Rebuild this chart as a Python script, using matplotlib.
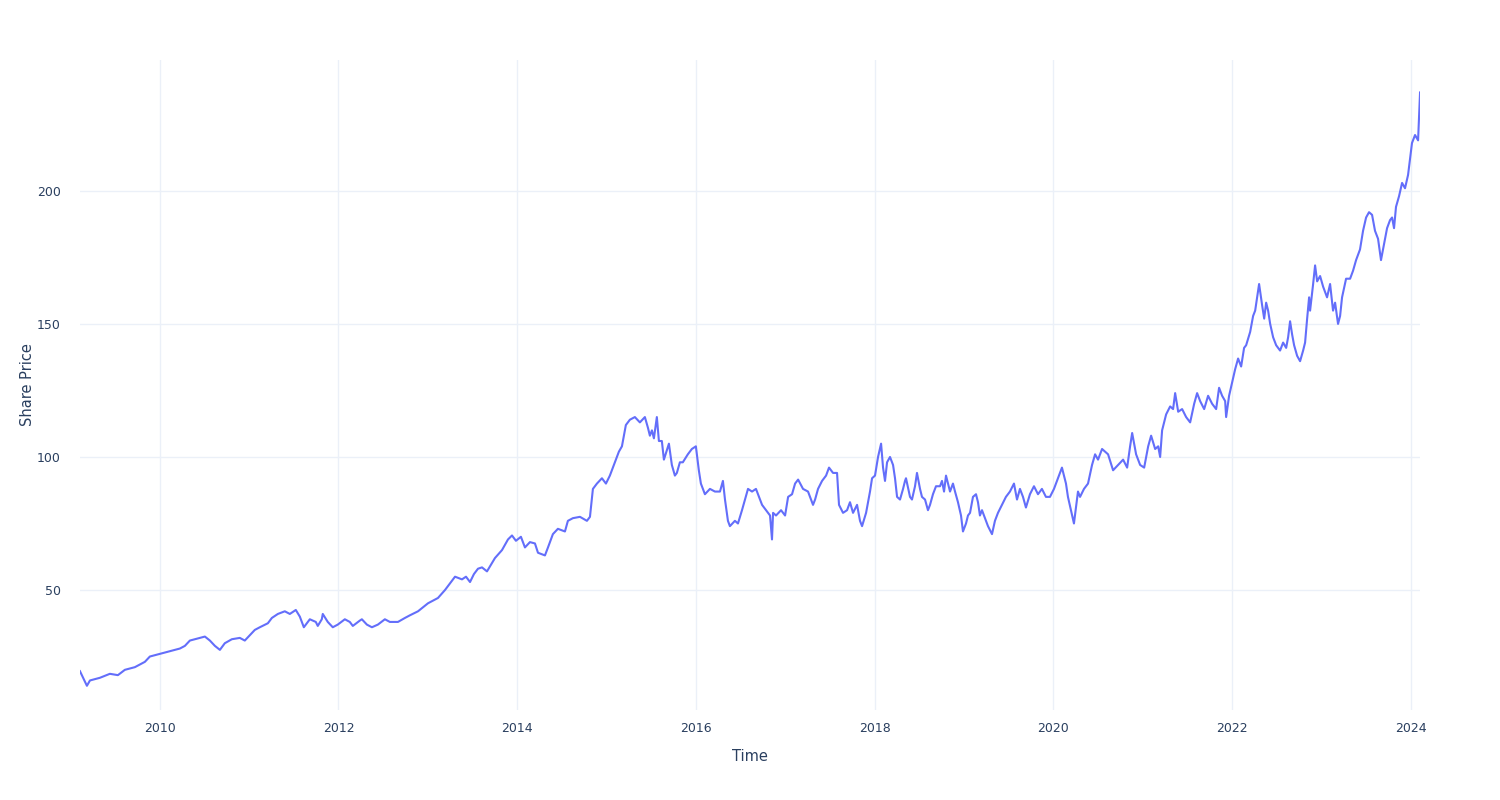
import numpy as np
import pandas as pd
import matplotlib
matplotlib.use('Agg')
import matplotlib.pyplot as plt
import matplotlib.dates as mdates

# time as decimal years
years = [
    2009.105, 2009.183, 2009.217, 2009.328, 2009.440, 2009.530, 2009.608, 2009.720, 2009.776, 2009.832,
    2009.888, 2010.000, 2010.112, 2010.224, 2010.280, 2010.336, 2010.448, 2010.504, 2010.560, 2010.616,
    2010.672, 2010.727, 2010.806, 2010.895, 2010.951, 2011.007, 2011.063, 2011.119, 2011.209, 2011.254,
    2011.321, 2011.399, 2011.455, 2011.522, 2011.567, 2011.612, 2011.679, 2011.746, 2011.768, 2011.813,
    2011.824, 2011.880, 2011.936, 2011.992, 2012.071, 2012.126, 2012.160, 2012.238, 2012.261, 2012.317,
    2012.373, 2012.440, 2012.518, 2012.574, 2012.664, 2012.742, 2012.798, 2012.888, 2012.999, 2013.111,
    2013.190, 2013.302, 2013.380, 2013.425, 2013.470, 2013.514, 2013.559, 2013.604, 2013.660, 2013.749,
    2013.828, 2013.895, 2013.940, 2013.984, 2014.040, 2014.085, 2014.141, 2014.197, 2014.231, 2014.309,
    2014.343, 2014.398, 2014.454, 2014.533, 2014.566, 2014.622, 2014.701, 2014.779, 2014.813, 2014.846,
    2014.891, 2014.947, 2014.992, 2015.036, 2015.092, 2015.137, 2015.171, 2015.215, 2015.260, 2015.316,
    2015.372, 2015.428, 2015.462, 2015.484, 2015.507, 2015.529, 2015.562, 2015.585, 2015.618, 2015.641,
    2015.697, 2015.730, 2015.764, 2015.786, 2015.820, 2015.853, 2015.909, 2015.954, 2015.999, 2016.032,
    2016.055, 2016.100, 2016.156, 2016.212, 2016.268, 2016.301, 2016.324, 2016.357, 2016.379, 2016.435,
    2016.469, 2016.514, 2016.547, 2016.581, 2016.626, 2016.670, 2016.704, 2016.738, 2016.782, 2016.827,
    2016.849, 2016.861, 2016.894, 2016.950, 2016.995, 2017.029, 2017.073, 2017.107, 2017.141, 2017.196,
    2017.252, 2017.308, 2017.331, 2017.364, 2017.409, 2017.454, 2017.487, 2017.532, 2017.577, 2017.599,
    2017.644, 2017.689, 2017.722, 2017.756, 2017.801, 2017.834, 2017.857, 2017.902, 2017.924, 2017.946,
    2017.969, 2018.002, 2018.036, 2018.070, 2018.092, 2018.114, 2018.137, 2018.170, 2018.204, 2018.226,
    2018.249, 2018.282, 2018.316, 2018.338, 2018.349, 2018.394, 2018.416, 2018.450, 2018.472, 2018.506,
    2018.528, 2018.562, 2018.595, 2018.618, 2018.651, 2018.685, 2018.730, 2018.752, 2018.775, 2018.797,
    2018.842, 2018.875, 2018.898, 2018.931, 2018.965, 2018.987, 2019.021, 2019.043, 2019.066, 2019.099,
    2019.133, 2019.155, 2019.177, 2019.200, 2019.233, 2019.267, 2019.312, 2019.345, 2019.379, 2019.424,
    2019.468, 2019.513, 2019.558, 2019.592, 2019.625, 2019.659, 2019.692, 2019.737, 2019.782, 2019.827,
    2019.871, 2019.916, 2019.961, 2020.006, 2020.050, 2020.095, 2020.140, 2020.162, 2020.229, 2020.274,
    2020.297, 2020.341, 2020.386, 2020.431, 2020.465, 2020.498, 2020.543, 2020.610, 2020.666, 2020.722,
    2020.778, 2020.823, 2020.856, 2020.879, 2020.923, 2020.968, 2021.013, 2021.058, 2021.091, 2021.136,
    2021.170, 2021.192, 2021.214, 2021.259, 2021.304, 2021.337, 2021.360, 2021.394, 2021.438, 2021.483,
    2021.528, 2021.573, 2021.606, 2021.640, 2021.685, 2021.729, 2021.774, 2021.819, 2021.852, 2021.886,
    2021.920, 2021.931, 2021.964, 2021.998, 2022.032, 2022.065, 2022.099, 2022.132, 2022.155, 2022.200,
    2022.233, 2022.256, 2022.278, 2022.300, 2022.334, 2022.357, 2022.379, 2022.401, 2022.424, 2022.457,
    2022.491, 2022.535, 2022.569, 2022.603, 2022.625, 2022.647, 2022.670, 2022.692, 2022.726, 2022.759,
    2022.793, 2022.815, 2022.838, 2022.860, 2022.871, 2022.905, 2022.927, 2022.950, 2022.983, 2023.017,
    2023.061, 2023.095, 2023.128, 2023.151, 2023.184, 2023.207, 2023.229, 2023.274, 2023.319, 2023.352,
    2023.386, 2023.430, 2023.464, 2023.498, 2023.531, 2023.565, 2023.598, 2023.632, 2023.665, 2023.699,
    2023.733, 2023.766, 2023.789, 2023.811, 2023.833, 2023.867, 2023.901, 2023.934, 2023.968, 2023.990,
    2024.012, 2024.046, 2024.080, 2024.102,
]

price = [
    19.5, 14, 16, 17, 18.5, 18, 20, 21, 22, 23,
    25, 26, 27, 28, 29, 31, 32, 32.5, 31, 29,
    27.5, 30, 31.5, 32, 31, 33, 35, 36, 37.5, 39.5,
    41, 42, 41, 42.5, 40, 36, 39, 38, 36.5, 39,
    41, 38, 36, 37, 39, 38, 36.5, 38.5, 39, 37,
    36, 37, 39, 38, 38, 39.5, 40.5, 42, 45, 47,
    50, 55, 54, 55, 53, 56, 58, 58.5, 57, 62,
    65, 69, 70.5, 68.5, 70, 66, 68, 67.5, 64, 63,
    66, 71, 73, 72, 76, 77, 77.5, 76, 77.5, 88,
    90, 92, 90, 93, 98, 102, 104, 112, 114, 115,
    113, 115, 111, 108, 110, 107, 115, 106, 106, 99,
    105, 97, 93, 94, 98, 98, 101, 103, 104, 95,
    90, 86, 88, 87, 87, 91, 84, 76, 74, 76,
    75, 80, 84, 88, 87, 88, 85, 82, 80, 78,
    69, 79, 78, 80, 78, 85, 86, 90, 91.5, 88,
    87, 82, 84, 88, 91, 93, 96, 94, 94, 82,
    79, 80, 83, 79, 82, 76, 74, 79, 83, 87,
    92, 93, 100, 105, 96, 91, 98, 100, 97, 92,
    85, 84, 88, 91, 92, 85, 84, 89, 94, 88,
    85, 84, 80, 82, 86, 89, 89, 91, 87, 93,
    87, 90, 87, 83, 78, 72, 75, 78, 79, 85,
    86, 83, 78, 80, 77, 74, 71, 76, 79, 82,
    85, 87, 90, 84, 88, 85, 81, 86, 89, 86,
    88, 85, 85, 88, 92, 96, 90, 85, 75, 87,
    85, 88, 90, 97, 101, 99, 103, 101, 95, 97,
    99, 96, 104, 109, 101, 97, 96, 104, 108, 103,
    104, 100, 110, 116, 119, 118, 124, 117, 118, 115,
    113, 120, 124, 121, 118, 123, 120, 118, 126, 123,
    121, 115, 123, 128, 133, 137, 134, 141, 142, 147,
    153, 155, 160, 165, 157, 152, 158, 155, 150, 145,
    142, 140, 143, 141, 145, 151, 146, 142, 138, 136,
    140, 143, 152, 160, 155, 165, 172, 166, 168, 164,
    160, 165, 155, 158, 150, 153, 160, 167, 167, 170,
    174, 178, 185, 190, 192, 191, 185, 182, 174, 180,
    186, 189, 190, 186, 194, 198, 203, 201, 206, 212,
    218, 221, 219, 237,
]


def to_date(y):
    yr = int(y)
    start = pd.Timestamp(yr, 1, 1)
    end = pd.Timestamp(yr + 1, 1, 1)
    return start + (end - start) * (y - yr)


dates = [to_date(y) for y in years]

txt = '#2a3f5f'
grid = '#ebf0f8'

fig = plt.figure(figsize=(15, 8), dpi=100)
ax = fig.add_axes([0.0533, 0.1125, 0.8934, 0.8125])

ax.plot(dates, price, color='#636efa', linewidth=1.5)

ax.set_xlim(dates[0], dates[-1])
ax.set_ylim(4.9, 249.2)
ax.set_yticks([50, 100, 150, 200])
ax.xaxis.set_major_locator(mdates.YearLocator(2))
ax.xaxis.set_major_formatter(mdates.DateFormatter('%Y'))

ax.grid(True, color=grid, linewidth=1)
ax.set_axisbelow(True)
for s in ax.spines.values():
    s.set_visible(False)
ax.tick_params(length=0, labelsize=9, labelcolor=txt)
ax.tick_params(axis='x', pad=8.5)
ax.tick_params(axis='y', pad=14)

ax.set_xlabel('Time', fontsize=10.5, color=txt, labelpad=10)
ax.set_ylabel('Share Price', fontsize=10.5, color=txt, labelpad=1)

fig.savefig('out.png', dpi=100, facecolor='white')
